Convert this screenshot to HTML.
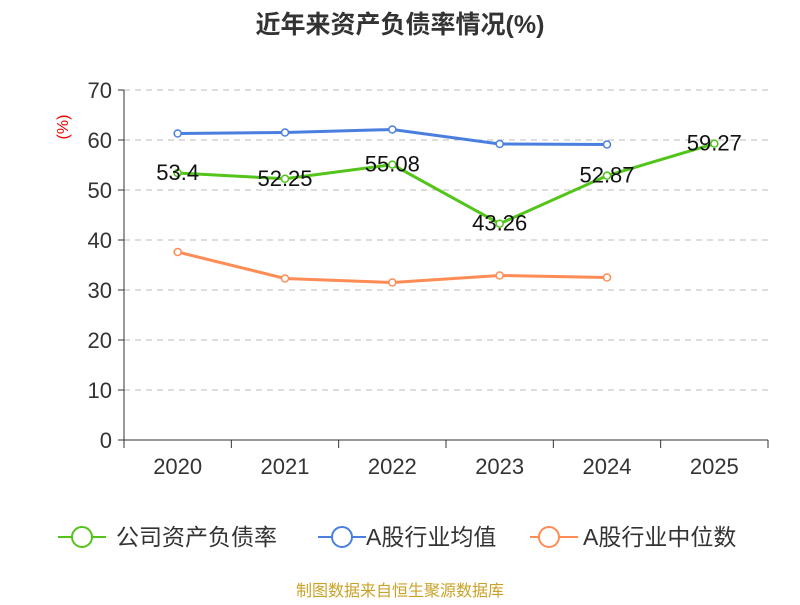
<!DOCTYPE html>
<html><head><meta charset="utf-8"><style>
body{margin:0;background:#fff}
svg{font-family:"Liberation Sans","Noto Sans CJK SC",sans-serif}
</style></head><body>
<svg width="800" height="600" id="chart">
<text x="400" y="33" text-anchor="middle" font-size="25" font-weight="bold" fill="#333">近年来资产负债率情况(%)</text>
<text x="68" y="127" font-size="16" fill="#e00" transform="rotate(-90 68 127)" text-anchor="middle">(%)</text>
<g id="grid"></g><g id="axes"></g><g id="series"></g>
<g font-size="23" fill="#333">
<g><line x1="58" y1="537" x2="106" y2="537" stroke="#52c41a" stroke-width="2"/><circle cx="82" cy="537" r="10" fill="#fff" stroke="#52c41a" stroke-width="2"/><text x="116" y="545">公司资产负债率</text></g>
<g><line x1="318" y1="537" x2="366" y2="537" stroke="#4a7fe0" stroke-width="2"/><circle cx="342" cy="537" r="10" fill="#fff" stroke="#4a7fe0" stroke-width="2"/><text x="366" y="545">A股行业均值</text></g>
<g><line x1="530" y1="537" x2="578" y2="537" stroke="#ff8c55" stroke-width="2"/><circle cx="549" cy="537" r="10" fill="#fff" stroke="#ff8c55" stroke-width="2"/><text x="583" y="545">A股行业中位数</text></g>
</g>
<text x="400" y="596" text-anchor="middle" font-size="16" fill="#c9a227">制图数据来自恒生聚源数据库</text>
</svg>
<script>
const categories=["2020","2021","2022","2023","2024","2025"];
const companyValues=[53.4,52.25,55.08,43.26,52.87,59.27];
const companyLabels=["53.4","52.25","55.08","43.26","52.87","59.27"];
const industryAvg=[61.3,61.5,62.1,59.2,59.1];
const industryMedian=[37.6,32.3,31.5,32.9,32.5];
const yTicks=[0,10,20,30,40,50,60,70];
const NS="http://www.w3.org/2000/svg";
const x0=124,x1=768,yB=440,yT=90,yMax=70;
const bw=(x1-x0)/categories.length;
const xs=i=>x0+bw*(i+0.5);
const ys=v=>yB-(v/yMax)*(yB-yT);
function mk(t,a,p){const e=document.createElementNS(NS,t);for(const k in a)e.setAttribute(k,a[k]);p.appendChild(e);return e;}
const grid=document.getElementById('grid'),axes=document.getElementById('axes'),ser=document.getElementById('series');
yTicks.forEach(v=>{
 if(v>0){const g=mk('line',{x1:x0,x2:x1,y1:ys(v),y2:ys(v),stroke:'#bbb','stroke-dasharray':'6,5'},grid);
 
 }
 mk('line',{x1:x0-6,x2:x0,y1:ys(v),y2:ys(v),stroke:'#333'},axes);
 const t=mk('text',{x:x0-12,y:ys(v)+8,'text-anchor':'end','font-size':22,fill:'#333'},axes);t.textContent=v;
 
 
});
mk('line',{x1:x0,x2:x0,y1:yT,y2:yB,stroke:'#333'},axes);
mk('line',{x1:x0,x2:x1,y1:yB,y2:yB,stroke:'#333'},axes);
for(let i=0;i<=categories.length;i++)mk('line',{x1:x0+bw*i,x2:x0+bw*i,y1:yB,y2:yB+8,stroke:'#333'},axes);
categories.forEach((c,i)=>{const t=mk('text',{x:xs(i),y:yB+34,'text-anchor':'middle','font-size':22,fill:'#333'},axes);t.textContent=c;
 
 });
function line(vals,color,name){
 const g=mk('g',{},ser);
 
 
 mk('polyline',{points:vals.map((v,i)=>xs(i)+','+ys(v)).join(' '),fill:'none',stroke:color,'stroke-width':3},g);
 vals.forEach((v,i)=>{const c=mk('circle',{cx:xs(i),cy:ys(v),r:3.5,fill:'#fff',stroke:color,'stroke-width':1.5},g);
 
 });
 return g;
}
line(industryMedian,'#ff8c55','industry-median-line');
line(industryAvg,'#4a7fe0','industry-avg-line');
const cg=line(companyValues,'#52c41a','company-line');
companyValues.forEach((v,i)=>{const t=mk('text',{x:xs(i),y:ys(v)+7,'text-anchor':'middle','font-size':22,fill:'#111'},cg);t.textContent=companyLabels[i];
 
 });
</script>
</body></html>
